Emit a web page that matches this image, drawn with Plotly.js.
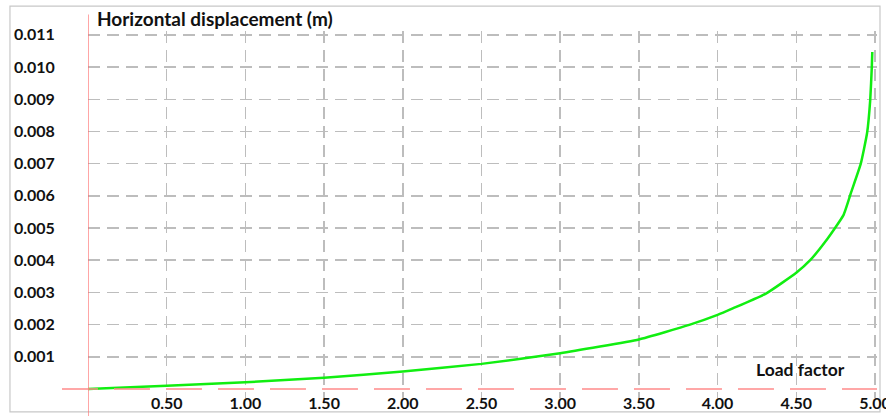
<!DOCTYPE html>
<html><head><meta charset="utf-8">
<script src="https://cdn.plot.ly/plotly-3.0.1.min.js"></script>
<style>html,body{margin:0;padding:0;background:#fff}#chart{width:886px;height:416px}</style>
</head><body><div id="chart"></div>
<script>
const loadFactor = [0, 0.5, 1.0, 1.5, 2.0, 2.5, 3.0, 3.5, 3.82, 4.0, 4.1, 4.31, 4.5, 4.59, 4.69, 4.8, 4.85, 4.91, 4.95, 4.97, 4.98, 4.983];
const displacement = [0, 0.0001, 0.00021, 0.00035, 0.00054, 0.00078, 0.00111, 0.00154, 0.00199, 0.0023, 0.00251, 0.00297, 0.00361, 0.00401, 0.00461, 0.0054, 0.00613, 0.0070, 0.00795, 0.00898, 0.0100, 0.01047];
const xTicks = [0.5, 1.0, 1.5, 2.0, 2.5, 3.0, 3.5, 4.0, 4.5, 5.0];
const yTicks = [0.001, 0.002, 0.003, 0.004, 0.005, 0.006, 0.007, 0.008, 0.009, 0.010, 0.011];
const yTitle = 'Horizontal displacement (m)';
const xTitle = 'Load factor';

const fam = 'Lato, "Open Sans", sans-serif';
const fnt = {family: fam, size: 16, color: '#111', weight: 'bold'};
const grid = {showgrid: true, gridcolor: '#bdbdbd', gridwidth: 1.5, griddash: '12px,7px', zeroline: false, showline: false};

const trace = {x: loadFactor, y: displacement, type: 'scatter', mode: 'lines',
  line: {color: '#11ee11', width: 2.5, shape: 'spline', smoothing: 0.4}, hoverinfo: 'skip'};

const layout = {
  width: 886, height: 416,
  margin: {l: 88, r: 9, t: 31, b: 18},
  paper_bgcolor: '#fff', plot_bgcolor: '#fff',
  showlegend: false,
  xaxis: Object.assign({}, grid, {range: [0, 5.013], tickvals: xTicks, tickformat: '.2f',
    ticks: '', tickfont: fnt, ticklabeloverflow: 'allow', ticklabelstandoff: -6}),
  yaxis: Object.assign({}, grid, {range: [-0.00028, 0.01112], tickvals: yTicks, tickformat: '.3f',
    ticks: 'outside', ticklen: 29, tickcolor: 'rgba(0,0,0,0)', tickfont: fnt}),
  shapes: [
    {type: 'rect', xref: 'paper', yref: 'paper', x0: -0.0989, x1: 1.0038, y0: -0.038, y1: 1.068,
      line: {color: '#c8c8c8', width: 1.2}, layer: 'below'},
    {type: 'line', xref: 'x', yref: 'paper', x0: 0, x1: 0, y0: -0.06, y1: 1.045,
      line: {color: '#ff6a6a', width: 1.2}},
    {type: 'line', xref: 'paper', yref: 'y', x0: -0.033, x1: 1, y0: 0, y1: 0,
      line: {color: '#ff8a8a', width: 1.5, dash: '36px,16px'}}
  ],
  annotations: [
    {text: yTitle, xref: 'paper', yref: 'paper', x: 0.0089, y: 1.0327, xanchor: 'left', yanchor: 'middle',
      showarrow: false, font: {family: fam, size: 19, color: '#111', weight: 'bold'}},
    {text: xTitle, xref: 'paper', yref: 'paper', x: 0.962, y: 0.0763, xanchor: 'right', yanchor: 'middle',
      showarrow: false, font: {family: fam, size: 17.5, color: '#111', weight: 'bold'}}
  ]
};
Plotly.newPlot('chart', [trace], layout, {displayModeBar: false, staticPlot: true});
</script></body></html>
